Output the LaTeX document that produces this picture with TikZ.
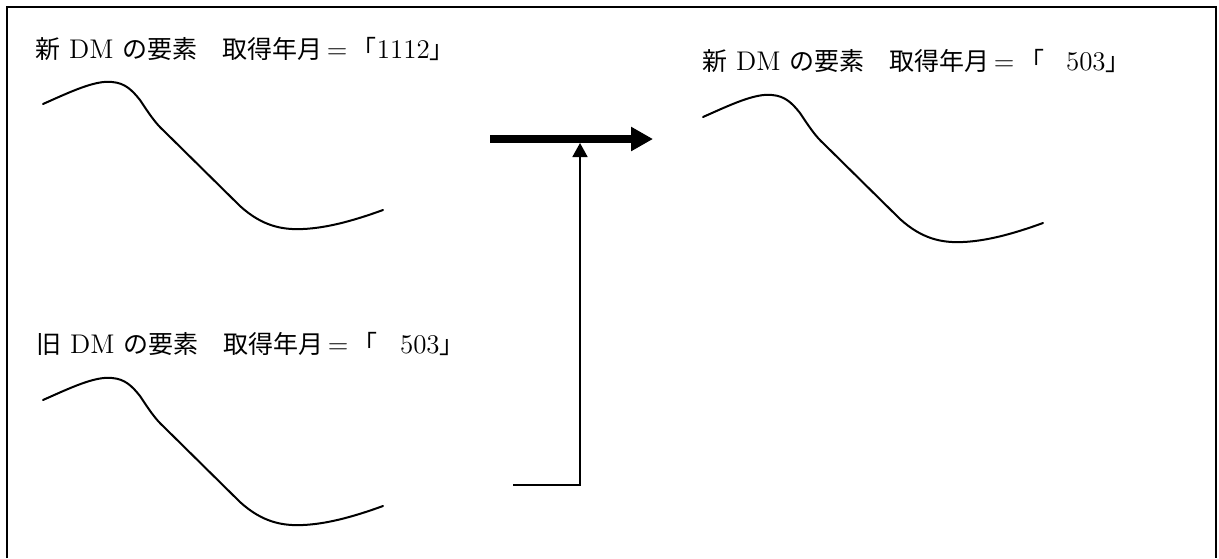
\documentclass[tikz,border=0pt]{standalone}
\usepackage{fontspec}
\newfontfamily\jp{Noto Sans CJK JP}
\usetikzlibrary{arrows.meta}

% Japanese run inside a label
\newcommand{\J}[1]{{\jp\fontsize{12.5}{15}\selectfont #1}}

% one wave-shaped sketch of a DM element, drawn in the local frame
\newcommand{\dmwave}{%
  (43,104) .. controls (70,92) and (95,80) .. (112,82)
  .. controls (125,83) and (132,90) .. (140,100)
  .. controls (148,112) and (155,123) .. (164,131)
  -- (240,206)
  .. controls (262,226) and (282,230) .. (303,229)
  .. controls (325,228) and (350,222) .. (383,210)}

\begin{document}
\begin{tikzpicture}[x=0.5pt,y=-0.5pt,
  frame/.style={line width=1pt},
  wave/.style={line width=1pt, line cap=round, line join=round},
  lbl/.style={inner sep=0pt, anchor=west, font=\fontsize{13.5}{16}\selectfont},
  bigarrow/.style={line width=4pt, -{Triangle[length=11pt,width=11.5pt]}},
  feed/.style={line width=0.9pt, -{Triangle[length=7pt,width=7.5pt]}}]
\useasboundingbox (0,0) rectangle (1219,558);

% open frame (its lower edge lies below the page)
\draw[frame] (7,558) -- (7,7) -- (1216,7) -- (1216,558);

% labels
\node[lbl] (newlbl) at (35,49) {\J{新} DM \J{の要素　取得年月}\,=\,\J{「}1112\J{」}};
\node[lbl] (oldlbl) at (36,344) {\J{旧} DM \J{の要素　取得年月}\,=\,\J{「}\hphantom{0} 503\J{」}};
\node[lbl] (reslbl) at (702,61) {\J{新} DM \J{の要素　取得年月}\,=\,\J{「}\hphantom{0} 503\J{」}};

% element sketches
\draw[wave] \dmwave;
\begin{scope}[shift={(0,296)}]
  \draw[wave] \dmwave;
\end{scope}
\begin{scope}[shift={(660,13)}]
  \draw[wave] \dmwave;
\end{scope}

% merge arrow
\coordinate (arrS) at (490,139);
\coordinate (arrE) at (653,139);
\draw[bigarrow] (arrS) -- (arrE);

% feed from the old element up into the merge arrow
\coordinate (feedS) at (513,485);
\coordinate (feedC) at (580,485);
\coordinate (feedT) at (580,143);
\draw[feed] (feedS) -- (feedC) -- (feedT);
\end{tikzpicture}
\end{document}
